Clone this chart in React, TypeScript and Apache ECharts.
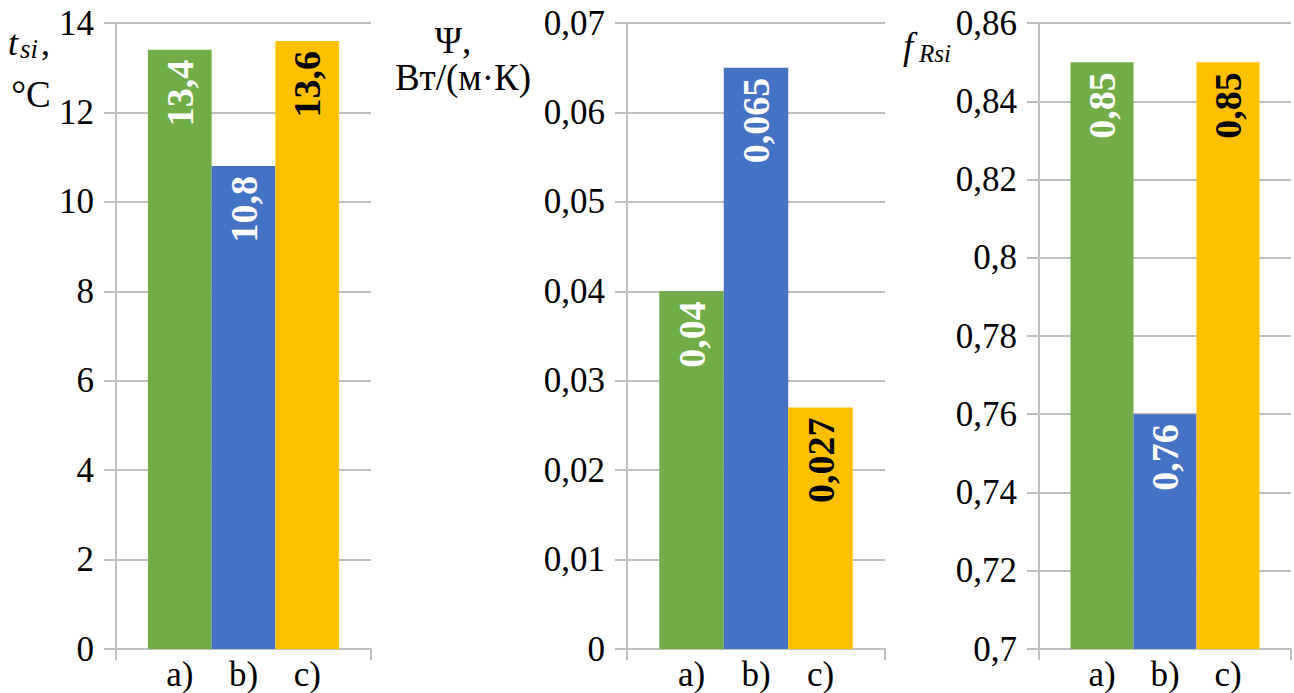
import React, { useEffect, useRef } from "react";
import * as echarts from "echarts";

const categories = ["", "a)", "b)", "c)", ""];
const tsiValues = [13.4, 10.8, 13.6];
const psiValues = [0.04, 0.065, 0.027];
const fRsiValues = [0.85, 0.76, 0.85];
const barColors = ["#70AD47", "#4472C4", "#FFC000"];
const labelColors = ["#ffffff", "#ffffff", "#000000"];

const FONT = "Liberation Serif";
const GRID_COLOR = "#bfbfbf";

const fmt = (v: number) => String(+v.toFixed(4)).replace(".", ",");

function seriesData(vals: number[]) {
  return [
    "-",
    ...vals.map((v, i) => ({
      value: v,
      itemStyle: { color: barColors[i] },
      label: { color: labelColors[i] },
    })),
    "-",
  ];
}

function txt(x: number, y: number, text: string, font: string, align: string) {
  return {
    type: "text",
    x,
    y,
    silent: true,
    style: {
      text,
      font,
      fill: "#000",
      textAlign: align,
      textVerticalAlign: "middle",
      align,
      verticalAlign: "middle",
    },
  };
}

export default function App() {
  const ref = useRef<HTMLDivElement>(null);
  useEffect(() => {
    document.body.style.margin = "0";
    const chart = echarts.init(ref.current!, undefined, { renderer: "svg" });
    const grids = [
      { left: 116, top: 23, width: 255, height: 626 },
      { left: 627, top: 23, width: 258, height: 626 },
      { left: 1039, top: 23, width: 254, height: 626 },
    ];
    const yDefs = [
      { min: 0, max: 14, interval: 2 },
      { min: 0, max: 0.07, interval: 0.01 },
      { min: 0.7, max: 0.86, interval: 0.02 },
    ];
    const valueSets = [tsiValues, psiValues, fRsiValues];
    const option: any = {
      animation: false,
      backgroundColor: "#ffffff",
      textStyle: { fontFamily: FONT },
      grid: grids,
      xAxis: grids.map((_, i) => ({
        type: "category",
        gridIndex: i,
        data: categories,
        boundaryGap: false,
        axisLine: { onZero: false, lineStyle: { color: GRID_COLOR, width: 2 } },
        axisTick: {
          show: true,
          interval: (idx: number) => idx === 0 || idx === categories.length - 1,
          length: 11,
          lineStyle: { color: GRID_COLOR, width: 2 },
        },
        axisLabel: {
          interval: 0,
          margin: 8,
          color: "#000",
          fontFamily: FONT,
          fontSize: 35,
        },
        splitLine: { show: false },
      })),
      yAxis: yDefs.map((d, i) => ({
        type: "value",
        gridIndex: i,
        min: d.min,
        max: d.max,
        interval: d.interval,
        axisLine: { show: true, lineStyle: { color: GRID_COLOR, width: 2 } },
        axisTick: { show: true, length: 12, lineStyle: { color: GRID_COLOR, width: 2 } },
        axisLabel: {
          margin: 22,
          color: "#000",
          fontFamily: FONT,
          fontSize: 35,
          formatter: (v: number) => fmt(v),
        },
        splitLine: { show: true, lineStyle: { color: GRID_COLOR, width: 2 } },
      })),
      series: valueSets.map((vals, i) => ({
        type: "bar",
        xAxisIndex: i,
        yAxisIndex: i,
        barCategoryGap: "0%",
        data: seriesData(vals),
        label: {
          show: true,
          position: "insideTop",
          rotate: 90,
          align: "right",
          verticalAlign: "middle",
          distance: 10,
          fontFamily: FONT,
          fontWeight: "bold",
          fontSize: 38,
          formatter: (p: any) => fmt(p.value),
        },
      })),
      graphic: [
        txt(8, 43, "t", `italic 36px ${FONT}`, "left"),
        txt(20, 49, "si", `italic 27px ${FONT}`, "left"),
        txt(41, 43, ",", `36px ${FONT}`, "left"),
        txt(31, 94, "°C", `37px ${FONT}`, "center"),
        txt(453, 40, "Ψ,", `37px ${FONT}`, "center"),
        txt(463, 77, "Вт/(м·К)", `37px ${FONT}`, "center"),
        txt(903, 46, "f", `italic 37px ${FONT}`, "left"),
        txt(919, 53, "Rsi", `italic 25px ${FONT}`, "left"),
      ],
    };
    chart.setOption(option);
    return () => chart.dispose();
  }, []);
  return <div ref={ref} style={{ width: 1294, height: 693 }} />;
}
